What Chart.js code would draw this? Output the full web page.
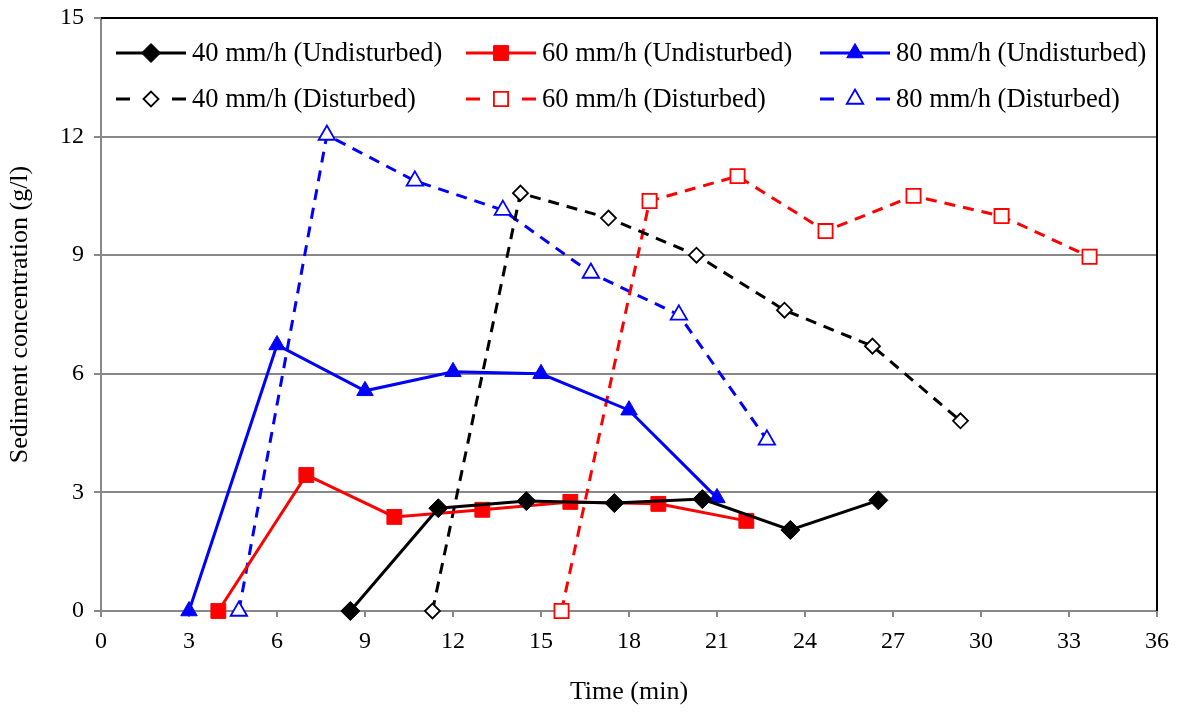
<!DOCTYPE html>
<html>
<head>
  <script src="https://cdn.jsdelivr.net/npm/chart.js"></script>
  <style>
    body { margin: 0; background: #fff; }
    #wrap { width: 1181px; height: 713px; position: relative; }
  </style>
</head>
<body>
  <div id="wrap">
    <canvas id="lineChart"></canvas>
  </div>
  <script>
    // values
    const seriesNames = [
      '40 mm/h (Undisturbed)', '60 mm/h (Undisturbed)', '80 mm/h (Undisturbed)',
      '40 mm/h (Disturbed)', '60 mm/h (Disturbed)', '80 mm/h (Disturbed)'
    ];
    const time40U = [8.5, 11.5, 14.5, 17.5, 20.5, 23.5, 26.5];
    const conc40U = [0, 2.6, 2.78, 2.73, 2.83, 2.05, 2.8];
    const time60U = [4, 7, 10, 13, 16, 19, 22];
    const conc60U = [0, 3.44, 2.38, 2.56, 2.76, 2.71, 2.28];
    const time80U = [3, 6, 9, 12, 15, 18, 21];
    const conc80U = [0, 6.73, 5.57, 6.05, 6.0, 5.08, 2.86];
    const time40D = [11.3, 14.3, 17.3, 20.3, 23.3, 26.3, 29.3];
    const conc40D = [0, 10.57, 9.94, 9.0, 7.61, 6.7, 4.81];
    const time60D = [15.7, 18.7, 21.7, 24.7, 27.7, 30.7, 33.7];
    const conc60D = [0, 10.37, 11.0, 9.61, 10.5, 9.99, 8.96];
    const time80D = [4.7, 7.7, 10.7, 13.7, 16.7, 19.7, 22.7];
    const conc80D = [0, 12.04, 10.88, 10.14, 8.55, 7.49, 4.33];

    const xMax = 36, xStep = 3;
    const yMax = 15, yStep = 3;

    const FONT = "'Liberation Serif', 'Times New Roman', serif";
    const GRID = '#888888';

    function pts(xs, ys) {
      return xs.map((x, i) => ({ x: x, y: ys[i] }));
    }

    function series(label, xs, ys, color, style, radius, open) {
      return {
        label: label,
        data: pts(xs, ys),
        borderColor: color,
        backgroundColor: color,
        borderWidth: 3,
        borderDash: open ? [11, 8] : [],
        pointStyle: style,
        pointRadius: radius,
        pointHoverRadius: radius,
        pointBackgroundColor: open ? '#fff' : color,
        pointBorderColor: color,
        pointBorderWidth: open ? 1.8 : 1,
        tension: 0,
        clip: false
      };
    }

    // legend drawn inside the plot area, two rows of three
    const insideLegend = {
      id: 'insideLegend',
      afterDraw(chart) {
        const ctx = chart.ctx;
        const cols = [116, 466, 820];
        const rows = [53, 99];
        ctx.save();
        chart.data.datasets.forEach((ds, i) => {
          const x0 = cols[i % 3];
          const y = rows[Math.floor(i / 3)];
          const open = ds.borderDash.length > 0;
          ctx.strokeStyle = ds.borderColor;
          ctx.lineWidth = 3;
          ctx.setLineDash([]);
          ctx.beginPath();
          if (open) {
            ctx.moveTo(x0, y); ctx.lineTo(x0 + 14, y);
            ctx.moveTo(x0 + 56, y); ctx.lineTo(x0 + 70, y);
          } else {
            ctx.moveTo(x0, y); ctx.lineTo(x0 + 70, y);
          }
          ctx.stroke();
          ctx.fillStyle = ds.pointBackgroundColor;
          ctx.strokeStyle = ds.pointBorderColor;
          ctx.lineWidth = ds.pointBorderWidth;
          Chart.helpers.drawPoint(ctx, {
            pointStyle: ds.pointStyle, radius: ds.pointRadius, rotation: 0, borderWidth: ds.pointBorderWidth
          }, x0 + 35, y);
          ctx.fillStyle = '#000';
          ctx.font = '26.5px ' + FONT;
          ctx.textBaseline = 'middle';
          ctx.textAlign = 'left';
          ctx.fillText(ds.label, x0 + 76, y + 1);
        });
        ctx.restore();
      }
    };

    // black top and right frame
    const frame = {
      id: 'frame',
      beforeDatasetsDraw(chart) {
        const a = chart.chartArea;
        const ctx = chart.ctx;
        ctx.save();
        ctx.strokeStyle = '#000';
        ctx.lineWidth = 2;
        ctx.beginPath();
        ctx.moveTo(a.left, a.top);
        ctx.lineTo(a.right, a.top);
        ctx.lineTo(a.right, a.bottom);
        ctx.stroke();
        ctx.restore();
      }
    };

    function drawChart() {
      const ctx = document.getElementById('lineChart').getContext('2d');
      new Chart(ctx, {
        type: 'line',
        data: {
          datasets: [
            series(seriesNames[0], time40U, conc40U, '#000000', 'rectRot', 9.5, false),
            series(seriesNames[1], time60U, conc60U, '#ff0000', 'rect', 10.5, false),
            series(seriesNames[2], time80U, conc80U, '#0000ff', 'triangle', 9.5, false),
            series(seriesNames[3], time40D, conc40D, '#000000', 'rectRot', 7.5, true),
            series(seriesNames[4], time60D, conc60D, '#ff0000', 'rect', 10, true),
            series(seriesNames[5], time80D, conc80D, '#0000ff', 'triangle', 9.5, true)
          ]
        },
        options: {
          responsive: true,
          maintainAspectRatio: false,
          animation: false,
          layout: { padding: { top: 18, right: 24, left: 0, bottom: 0 } },
          plugins: {
            legend: { display: false },
            tooltip: { enabled: false }
          },
          scales: {
            x: {
              type: 'linear',
              min: 0,
              max: xMax,
              afterFit(scale) { scale.height = 102; },
              ticks: { stepSize: xStep, color: '#000', font: { family: FONT, size: 24 }, padding: 10, maxRotation: 0 },
              grid: { drawOnChartArea: false, drawTicks: true, tickLength: 6, color: GRID, lineWidth: 2 },
              border: { color: GRID, width: 2 },
              title: { display: true, text: 'Time (min)', color: '#000', font: { family: FONT, size: 26 }, padding: { top: 5, bottom: 5 } }
            },
            y: {
              min: 0,
              max: yMax,
              afterFit(scale) {
                scale.width = 101;
                scale.paddingTop = 0;
                scale.paddingBottom = 0;
              },
              ticks: { stepSize: yStep, color: '#000', font: { family: FONT, size: 24 }, padding: 10 },
              grid: { color: GRID, lineWidth: 2, drawTicks: true, tickLength: 7 },
              border: { color: GRID, width: 2 },
              title: { display: true, text: 'Sediment concentration (g/l)', color: '#000', font: { family: FONT, size: 26 }, padding: { top: 5, bottom: 5 } }
            }
          }
        },
        plugins: [frame, insideLegend]
      });
    }

    drawChart();
  </script>
</body>
</html>
